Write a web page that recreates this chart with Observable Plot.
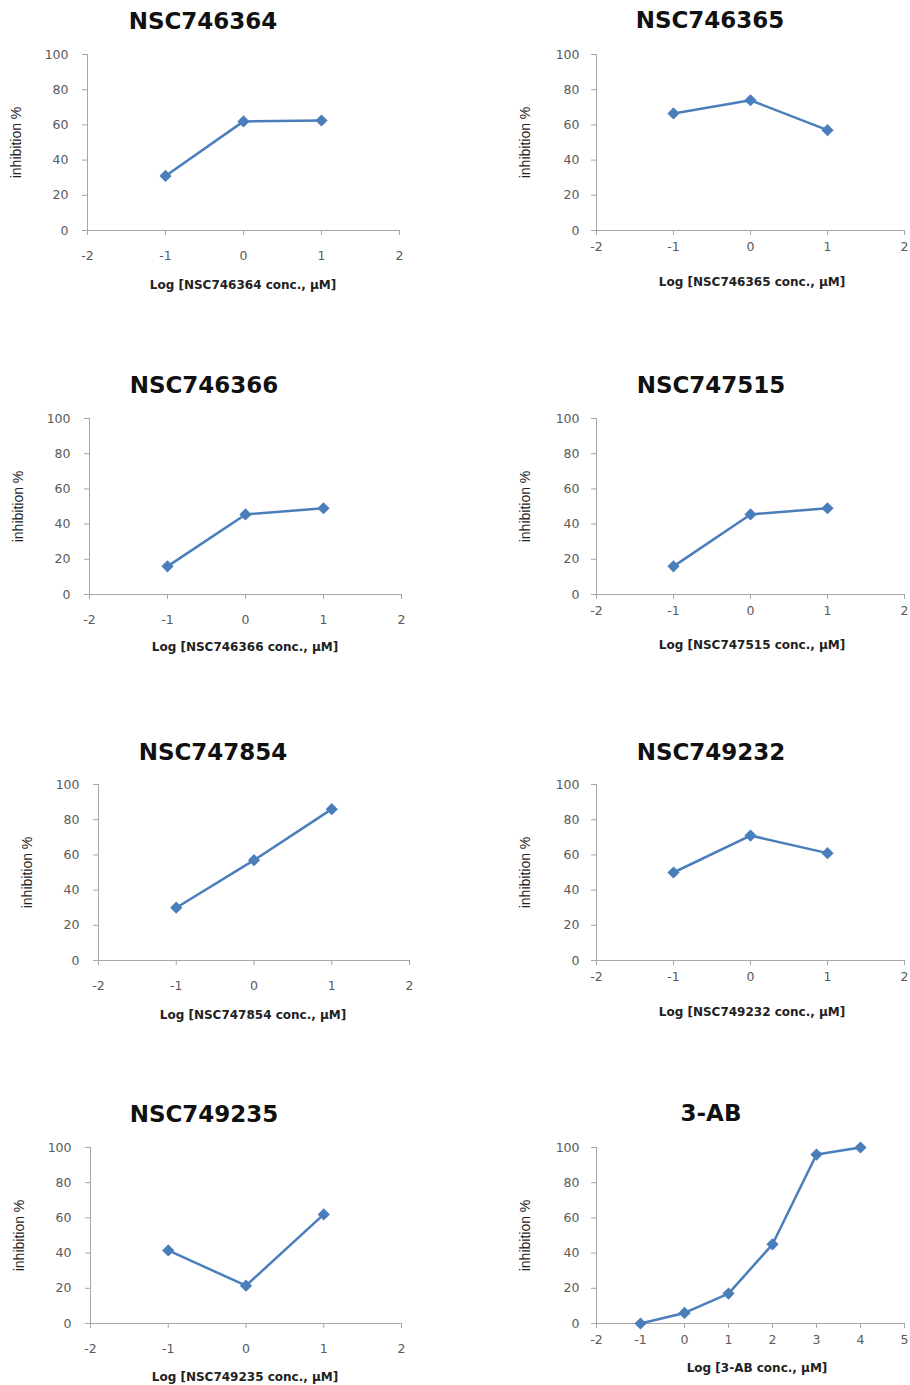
<!DOCTYPE html>
<html><head><meta charset="utf-8">
<script src="https://cdn.jsdelivr.net/npm/d3@7"></script>
<script src="https://cdn.jsdelivr.net/npm/@observablehq/plot@0.6"></script>
<style>
html,body{margin:0;padding:0;background:#fff;overflow:hidden}
#root{position:relative;width:910px;height:1385px;overflow:hidden;background:#fff}
.title{position:absolute;font-family:"DejaVu Sans",sans-serif;font-weight:bold;font-size:23px;color:#111;transform:translate(-50%,-50%);white-space:nowrap;line-height:1}
.xlab{position:absolute;font-family:"DejaVu Sans",sans-serif;font-weight:bold;font-size:12px;color:#222;transform:translate(-50%,-50%);white-space:nowrap;line-height:1}
.panel{position:absolute}
.panel svg{max-width:none !important}
</style></head><body><div id="root"></div>
<script>
// ---- data ----
const compounds = ["NSC746364","NSC746365","NSC746366","NSC747515","NSC747854","NSC749232","NSC749235","3-AB"];
const xLabels = ["Log [NSC746364 conc., μM]","Log [NSC746365 conc., μM]","Log [NSC746366 conc., μM]","Log [NSC747515 conc., μM]","Log [NSC747854 conc., μM]","Log [NSC749232 conc., μM]","Log [NSC749235 conc., μM]","Log [3-AB conc., μM]"];
const yLabel = "inhibition %";
const logConcStd = [-1, 0, 1];
const logConc3AB = [-1, 0, 1, 2, 3, 4];
const inhibNSC746364 = [31, 62, 62.5];
const inhibNSC746365 = [66.5, 74, 57];
const inhibNSC746366 = [16, 45.5, 49];
const inhibNSC747515 = [16, 45.5, 49];
const inhibNSC747854 = [30, 57, 86];
const inhibNSC749232 = [50, 71, 61];
const inhibNSC749235 = [41.5, 21.5, 62];
const inhib3AB = [0, 6, 17, 45, 96, 100];
const xTicksStd = [-2, -1, 0, 1, 2];
const xTicks3AB = [-2, -1, 0, 1, 2, 3, 4, 5];
const yTicks = [0, 20, 40, 60, 80, 100];

const seriesX = [logConcStd, logConcStd, logConcStd, logConcStd, logConcStd, logConcStd, logConcStd, logConc3AB];
const seriesY = [inhibNSC746364, inhibNSC746365, inhibNSC746366, inhibNSC747515, inhibNSC747854, inhibNSC749232, inhibNSC749235, inhib3AB];
const seriesTicks = [xTicksStd, xTicksStd, xTicksStd, xTicksStd, xTicksStd, xTicksStd, xTicksStd, xTicks3AB];

// ---- layout (frame edges, title and x-label centres) ----
const layout = [
  {x0: 87, x1: 399, yT: 54, yB: 230, tx: 203, ty: 21, lx: 243, ly: 285, side: "L"},
  {x0: 596, x1: 904, yT: 54, yB: 230, tx: 710, ty: 20, lx: 752, ly: 282, side: "R"},
  {x0: 89, x1: 401, yT: 418, yB: 594, tx: 204, ty: 385, lx: 245, ly: 647, side: "L"},
  {x0: 596, x1: 904, yT: 418, yB: 594, tx: 711, ty: 385, lx: 752, ly: 645, side: "R"},
  {x0: 98, x1: 409, yT: 784, yB: 960, tx: 213, ty: 752, lx: 253, ly: 1015, side: "L"},
  {x0: 596, x1: 904, yT: 784, yB: 960, tx: 711, ty: 752, lx: 752, ly: 1012, side: "R"},
  {x0: 90, x1: 401, yT: 1147, yB: 1323, tx: 204, ty: 1114, lx: 245, ly: 1377, side: "L"},
  {x0: 596, x1: 904, yT: 1147, yB: 1323, tx: 711, ty: 1113, lx: 757, ly: 1368, side: "R"}
];

const root = document.getElementById("root");
const axisGrey = "#a6a6a6";
const tickText = "#595959";
const lineBlue = "#4a7ebb";

compounds.forEach((name, i) => {
  const L = layout[i];
  const ML = 80, MR = 20, MT = 10, MB = 40;
  const ticks = seriesTicks[i];
  const xmin = ticks[0], xmax = ticks[ticks.length - 1];
  const data = seriesX[i].map((x, k) => ({x, y: seriesY[i][k]}));
  const left = L.side === "L";
  const W = (L.x1 - L.x0) + ML + MR;
  const H = (L.yB - L.yT) + MT + MB;
  const svg = Plot.plot({
    width: W,
    height: H,
    marginLeft: ML, marginRight: MR, marginTop: MT, marginBottom: MB,
    x: {domain: [xmin, xmax]},
    y: {domain: [0, 100]},
    style: {background: "transparent", overflow: "visible", maxWidth: "none"},
    marks: [
      Plot.ruleY([0], {stroke: axisGrey, strokeWidth: 1}),
      Plot.ruleX([xmin], {stroke: axisGrey, strokeWidth: 1}),
      Plot.axisY({ticks: yTicks, tickSize: 5, tickPadding: left ? 14 : 12, stroke: axisGrey, fill: tickText,
        fontSize: 12.5, fontFamily: "DejaVu Sans", label: null}),
      Plot.axisX({ticks: ticks, tickSize: 5, tickPadding: left ? 16 : 7, tickFormat: d => String(d),
        stroke: axisGrey, fill: tickText, fontSize: 12.5, fontFamily: "DejaVu Sans", label: null}),
      Plot.text([yLabel], {text: d => d, frameAnchor: "left", textAnchor: "middle", dx: -71, rotate: -90,
        fontFamily: "Liberation Sans", fontSize: 14, fill: "#222"}),
      Plot.line(data, {x: "x", y: "y", stroke: lineBlue, strokeWidth: 2.5}),
      Plot.dot(data, {x: "x", y: "y", symbol: d3.symbolDiamond2, fill: lineBlue, stroke: "none", r: 5.5})
    ]
  });
  const wrap = document.createElement("div");
  wrap.className = "panel";
  wrap.style.left = (L.x0 - ML) + "px";
  wrap.style.top = (L.yT - MT) + "px";
  wrap.style.width = W + "px";
  wrap.style.height = H + "px";
  wrap.appendChild(svg);
  root.appendChild(wrap);

  const t = document.createElement("div");
  t.className = "title";
  t.textContent = name;
  t.style.left = L.tx + "px";
  t.style.top = L.ty + "px";
  root.appendChild(t);

  const xl = document.createElement("div");
  xl.className = "xlab";
  xl.textContent = xLabels[i];
  xl.style.left = L.lx + "px";
  xl.style.top = L.ly + "px";
  root.appendChild(xl);
});
</script>
</body></html>
